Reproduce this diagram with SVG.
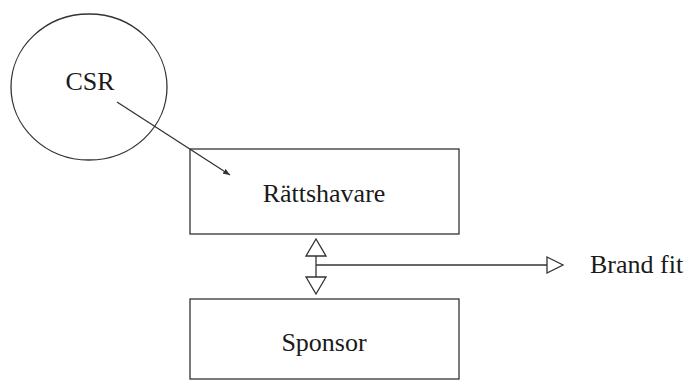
<svg xmlns="http://www.w3.org/2000/svg" width="688" height="380" viewBox="0 0 688 380">
<style>
.shape{fill:#ffffff;stroke:#333333;stroke-width:1.3}
.line{fill:none;stroke:#333333;stroke-width:1.3}
.hollow{fill:#ffffff;stroke:#333333;stroke-width:1.3;stroke-linejoin:miter}
.label{font-family:"Liberation Serif","Times New Roman",serif;font-size:26px;fill:#1a1a1a}
</style>
<defs>
<marker id="filled" viewBox="0 0 10 10" refX="10" refY="5" markerWidth="7" markerHeight="7" markerUnits="userSpaceOnUse" orient="auto">
<path d="M0,1 L10,5 L0,9 Z" fill="#333333"/>
</marker>
</defs>
<rect width="688" height="380" fill="#ffffff"/>
<g id="node-csr">
<ellipse class="shape" cx="89" cy="87" rx="78" ry="73"/>
<text class="label" x="90" y="90" text-anchor="middle">CSR</text>
</g>
<g id="node-rattshavare">
<rect class="shape" x="190" y="149" width="269" height="85"/>
<text class="label" x="324" y="202" text-anchor="middle">Rättshavare</text>
</g>
<g id="node-sponsor">
<rect class="shape" x="190" y="299" width="269" height="80"/>
<text class="label" x="324" y="351" text-anchor="middle">Sponsor</text>
</g>
<g id="node-brandfit">
<text class="label" x="590" y="273">Brand fit</text>
</g>
<g id="connectors">
<line class="line" x1="117" y1="102" x2="230" y2="175" marker-end="url(#filled)"/>
<line class="line" x1="316" y1="256" x2="316" y2="277"/>
<polygon class="hollow" points="316,239 306,256 326,256"/>
<polygon class="hollow" points="306,277 326,277 316,294"/>
<line class="line" x1="316" y1="265" x2="547" y2="265"/>
<polygon class="hollow" points="547,257 563,265 547,273"/>
</g>
</svg>
